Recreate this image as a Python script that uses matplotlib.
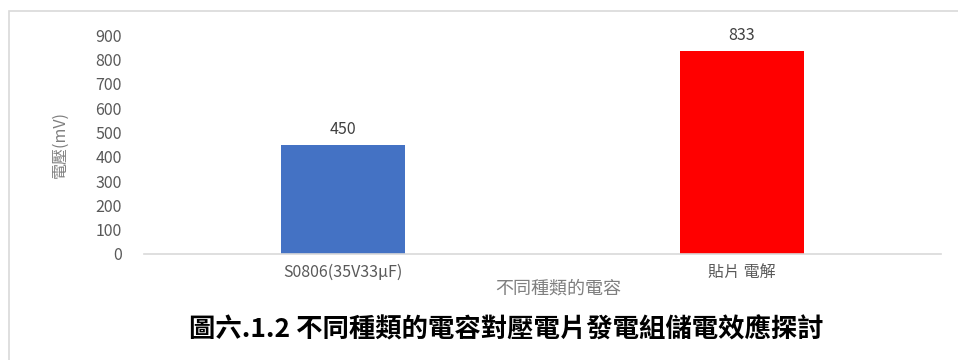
import matplotlib
matplotlib.use("Agg")
import matplotlib.pyplot as plt
from matplotlib.patches import Rectangle

plt.rcParams['font.family'] = ['Noto Sans CJK TC', 'DejaVu Sans']

categories = ["S0806(35V33μF)", "貼片 電解"]
voltages = [450, 833]
bar_colors = ["#4472c4", "#ff0000"]
yticks = [0, 100, 200, 300, 400, 500, 600, 700, 800, 900]

W, H = 958, 360
fig = plt.figure(figsize=(W / 100, H / 100), dpi=100)
fig.patch.set_facecolor("white")

# light frame around the chart area
fig.patches.append(Rectangle((9 / W, -0.01), 1.0, 1 - 11 / H + 0.01,
                             transform=fig.transFigure, fill=False,
                             edgecolor="#d9d9d9", linewidth=1.2))

ax = fig.add_axes([144 / W, 1 - 254 / H, (941 - 144) / W, (254 - 35) / H])
x = range(len(categories))
bars = ax.bar(x, voltages, width=0.31, color=bar_colors)
ax.set_xlim(-0.5, 1.5)
ax.set_ylim(0, 900)
ax.set_yticks(yticks)
ax.set_xticks(list(x))
ax.set_xticklabels(categories)

for s in ["top", "right", "left"]:
    ax.spines[s].set_visible(False)
ax.spines["bottom"].set_color("#d9d9d9")
ax.spines["bottom"].set_linewidth(1.2)
ax.tick_params(axis="both", length=0, colors="#595959", labelsize=11.5)
ax.tick_params(axis="y", pad=16)
ax.tick_params(axis="x", pad=7)

for b, v in zip(bars, voltages):
    ax.annotate(str(v), (b.get_x() + b.get_width() / 2, v),
                xytext=(0, 5), textcoords="offset points",
                ha="center", va="bottom", fontsize=11.5, color="#404040")

fig.text(60 / W, 1 - 145 / H, "電壓(mV)", rotation=90, ha="center", va="center",
         fontsize=11.5, color="#7f7f7f")
fig.text(558 / W, 1 - 289 / H, "不同種類的電容", ha="center", va="center",
         fontsize=13, color="#7f7f7f")
fig.text(506 / W, 1 - 330 / H, "圖六.1.2 不同種類的電容對壓電片發電組儲電效應探討",
         ha="center", va="center", fontsize=19, fontweight="bold", color="black")

fig.savefig("out.png", dpi=100)
